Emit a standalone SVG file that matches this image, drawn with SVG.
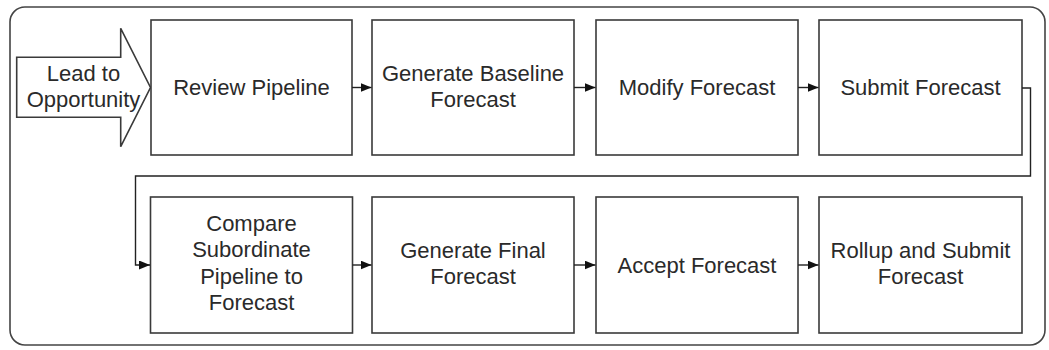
<svg xmlns="http://www.w3.org/2000/svg" width="1049" height="350" viewBox="0 0 1049 350">
<defs>
<style>
.box{fill:#fff;stroke:#3a3a3a;stroke-width:1.6}
.lbl{font-family:"Liberation Sans",Arial,sans-serif;font-size:22px;fill:#2a2a2a;text-anchor:middle}
.con{fill:none;stroke:#222;stroke-width:1.4}
</style>
<marker id="ah" markerWidth="11" markerHeight="9" refX="11" refY="4.5" orient="auto" markerUnits="userSpaceOnUse">
<path d="M0,0 L11,4.5 L0,9 Z" fill="#111"/>
</marker>
</defs>
<rect x="0" y="0" width="1049" height="350" fill="#fff"/>
<rect id="frame" x="10" y="7" width="1035" height="338" rx="15" ry="15" fill="#fff" stroke="#444" stroke-width="1.6"/>

<g id="lead">
<path class="box" d="M16.7,57.3 H120.7 V28.3 L150.5,87.5 L120.7,146.7 V117.3 H16.7 Z"/>
<text class="lbl" x="83.5" y="81">Lead to</text>
<text class="lbl" x="83.5" y="106.5">Opportunity</text>
</g>

<g id="n1">
<rect class="box" x="151" y="20" width="201" height="135"/>
<text class="lbl" x="251.5" y="95">Review Pipeline</text>
</g>
<g id="n2">
<rect class="box" x="372" y="20" width="202" height="135"/>
<text class="lbl" x="473" y="80.7">Generate Baseline</text>
<text class="lbl" x="473" y="106.7">Forecast</text>
</g>
<g id="n3">
<rect class="box" x="596" y="20" width="202" height="135"/>
<text class="lbl" x="697" y="95">Modify Forecast</text>
</g>
<g id="n4">
<rect class="box" x="819" y="20" width="203" height="135"/>
<text class="lbl" x="920.5" y="95">Submit Forecast</text>
</g>

<g id="n5">
<rect class="box" x="150.5" y="197" width="202" height="136"/>
<text class="lbl" x="251.5" y="230.7">Compare</text>
<text class="lbl" x="251.5" y="257.3">Subordinate</text>
<text class="lbl" x="251.5" y="283.5">Pipeline to</text>
<text class="lbl" x="251.5" y="310">Forecast</text>
</g>
<g id="n6">
<rect class="box" x="372" y="197" width="202" height="136"/>
<text class="lbl" x="473" y="258">Generate Final</text>
<text class="lbl" x="473" y="284">Forecast</text>
</g>
<g id="n7">
<rect class="box" x="596" y="197" width="202" height="136"/>
<text class="lbl" x="697" y="272.5">Accept Forecast</text>
</g>
<g id="n8">
<rect class="box" x="819" y="197" width="203" height="136"/>
<text class="lbl" x="920.5" y="257.7">Rollup and Submit</text>
<text class="lbl" x="920.5" y="283.5">Forecast</text>
</g>

<g id="connectors">
<path class="con" d="M352,87.5 H371.5" marker-end="url(#ah)"/>
<path class="con" d="M574,87.5 H595.5" marker-end="url(#ah)"/>
<path class="con" d="M798,87.5 H818.5" marker-end="url(#ah)"/>
<path class="con" d="M1022,88 H1030.5 V176 H135.5 V265 H150" marker-end="url(#ah)"/>
<path class="con" d="M352.5,265 H371.5" marker-end="url(#ah)"/>
<path class="con" d="M574,265 H595.5" marker-end="url(#ah)"/>
<path class="con" d="M798,265 H818.5" marker-end="url(#ah)"/>
</g>
</svg>
